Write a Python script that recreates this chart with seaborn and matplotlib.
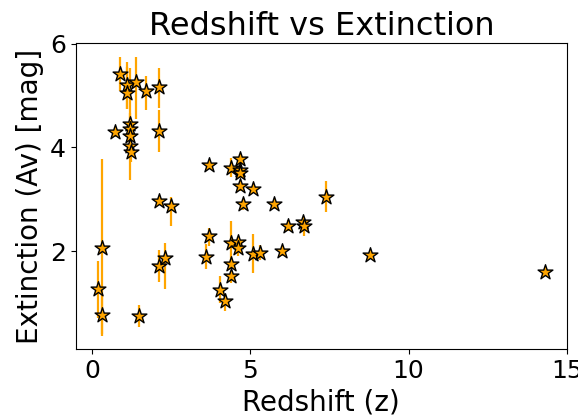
import matplotlib
matplotlib.use("Agg")
import matplotlib.pyplot as plt
import seaborn as sns
import pandas as pd

redshift = [0.19, 0.30, 0.30, 0.72, 0.89, 1.09, 1.09, 1.20, 1.20, 1.20, 1.20, 1.22,
            1.39, 1.49, 1.70, 2.10, 2.10, 2.10, 2.10, 2.30, 2.49, 3.60, 3.68, 3.68,
            4.03, 4.19, 4.38, 4.38, 4.38, 4.40, 4.60, 4.60, 4.67, 4.68, 4.68, 4.68,
            4.77, 5.09, 5.09, 5.31, 5.76, 6.00, 6.18, 6.68, 6.70, 7.39, 8.79, 14.30]
extinction = [1.26, 2.05, 0.77, 4.30, 5.42, 5.20, 5.05, 4.46, 4.36, 4.22, 4.02, 3.91,
              5.26, 0.75, 5.08, 5.17, 4.32, 2.96, 1.71, 1.87, 2.87, 1.89, 2.30, 3.66,
              1.25, 1.04, 2.16, 1.75, 1.51, 3.61, 2.17, 2.06, 3.77, 3.57, 3.51, 3.26,
              2.90, 3.19, 1.95, 1.97, 2.91, 2.00, 2.49, 2.56, 2.49, 3.05, 1.92, 1.60]
err_low = [0.55, 1.68, 0.38, 0.10, 0.33, 0.45, 0.30, 1.08, 0.30, 0.30, 0.20, 0.20,
           0.72, 0.21, 0.35, 0.40, 0.40, 0.08, 0.30, 0.60, 0.38, 0.24, 0.20, 0.05,
           0.26, 0.19, 0.50, 0.10, 0.12, 0.18, 0.10, 0.15, 0.10, 0.10, 0.10, 0.10,
           0.10, 0.05, 0.38, 0.15, 0.10, 0.10, 0.10, 0.10, 0.20, 0.30, 0.08, 0.08]
err_high = [0.55, 1.72, 0.38, 0.10, 0.33, 0.45, 0.50, 1.08, 0.30, 0.30, 0.20, 0.20,
            0.49, 0.21, 0.30, 0.36, 0.40, 0.08, 0.32, 0.29, 0.17, 0.24, 0.15, 0.05,
            0.26, 0.10, 0.42, 0.10, 0.10, 0.18, 0.10, 0.10, 0.10, 0.10, 0.10, 0.10,
            0.10, 0.05, 0.38, 0.15, 0.05, 0.10, 0.10, 0.10, 0.10, 0.30, 0.08, 0.08]

df = pd.DataFrame({"z": redshift, "Av": extinction})

fig, ax = plt.subplots(figsize=(5.78, 4.16), dpi=100)
fig.subplots_adjust(left=0.131, right=0.981, top=0.897, bottom=0.160)

ax.errorbar(redshift, extinction, yerr=[err_low, err_high], fmt="none",
            ecolor="orange", elinewidth=1.6, zorder=1)
sns.scatterplot(data=df, x="z", y="Av", marker="*", s=125, color="orange",
                edgecolor="black", linewidth=1.0, ax=ax, zorder=2)

ax.set_title("Redshift vs Extinction", fontsize=23)
ax.set_xlabel("Redshift (z)", fontsize=20)
ax.set_ylabel("Extinction (Av) [mag]", fontsize=20)
ax.tick_params(labelsize=18)
ax.set_xticks([0, 5, 10, 15])
ax.set_yticks([2, 4, 6])

fig.savefig("out.png", dpi=100)
